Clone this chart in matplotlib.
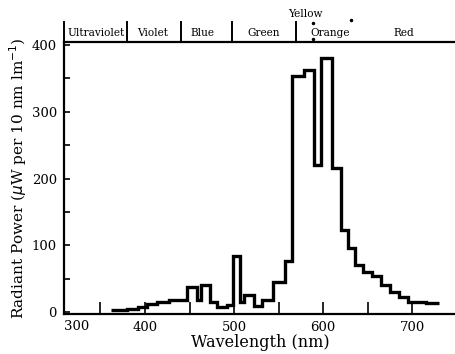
import matplotlib.pyplot as plt
import numpy as np
from matplotlib.ticker import MultipleLocator

# step edges (nm) and radiant power per bin
edges = [362, 380, 392, 402, 413, 427, 447, 458, 463, 473, 481, 492, 499, 507,
         511, 522, 531, 544, 557, 565, 578, 590, 597, 610, 620, 628, 636, 645,
         655, 665, 675, 685, 695, 715, 730]
power = [3, 5, 8, 12, 15, 18, 37, 18, 40, 15, 7, 10, 84,
         15, 25, 9, 18, 45, 76, 353, 362, 220, 380, 216, 123, 96, 70,
         60, 54, 40, 30, 22, 15, 13]

bands = ['Ultraviolet', 'Violet', 'Blue', 'Green', 'Orange', 'Red']
band_centres = [345.5, 409, 465, 533, 608, 691]
band_edges = [380, 440, 498, 570]

plt.rcParams['font.family'] = 'DejaVu Serif'

fig = plt.figure(figsize=(4.56, 3.54), dpi=100)
ax = fig.add_axes([0.140, 0.113, 0.860, 0.768])

ax.stairs(power, edges, baseline=None, color='black', lw=2.4)

ax.set_xlim(309, 749)
ax.set_ylim(-3, 404.5)
ax.xaxis.set_major_locator(MultipleLocator(100))
ax.xaxis.set_minor_locator(MultipleLocator(50))
ax.yaxis.set_major_locator(MultipleLocator(100))
ax.yaxis.set_minor_locator(MultipleLocator(50))
ax.tick_params(which='both', direction='in', top=False, right=False, labelsize=9.5, pad=5)
ax.tick_params(axis='x', which='both', length=9, width=1.2)
ax.tick_params(axis='y', which='both', length=4, width=1.2)
ax.spines['right'].set_visible(False)
for s in ['left', 'bottom', 'top']:
    ax.spines[s].set_linewidth(1.6)

# the 300 label sits at the left edge
ax.text(0.0, -0.022, '300', transform=ax.transAxes, ha='left', va='top', fontsize=9.5)

ax.set_xlabel('Wavelength (nm)', fontsize=11.5, labelpad=0)
ax.set_ylabel(r'Radiant Power ($\mu$W per 10 nm lm$^{-1}$)', fontsize=11, labelpad=2)

# colour band labels above the plot
trans = ax.get_xaxis_transform()
ax.plot([0, 0], [1.0, 1.074], transform=ax.transAxes, color='black', lw=1.4, clip_on=False)
for e in band_edges:
    ax.plot([e, e], [1.0, 1.074], transform=trans, color='black', lw=1.4, clip_on=False)
for name, c in zip(bands, band_centres):
    ax.text(c, 1.033, name, transform=trans, ha='center', va='center', fontsize=7.6)
ax.text(580, 1.103, 'Yellow', transform=trans, ha='center', va='center', fontsize=7.6)
ax.plot([589, 631, 589], [1.07, 1.08, 1.01], 'o', transform=trans, color='black',
        ms=1.5, clip_on=False)

fig.savefig('out.png', dpi=100)
